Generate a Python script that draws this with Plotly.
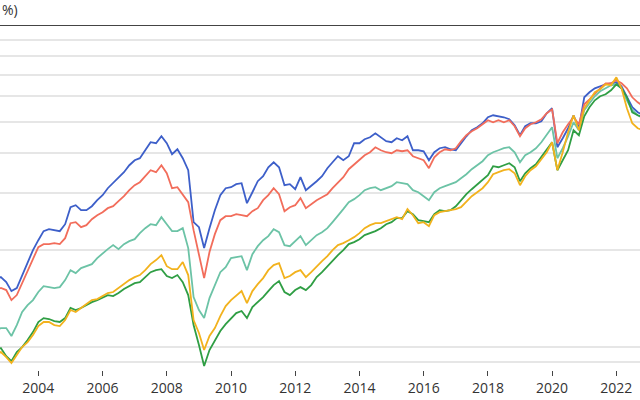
import pandas as pd
import plotly.graph_objects as go

# Bi-monthly observation dates (x categories)
dates = pd.date_range(start="2002-09-01", periods=122, freq="2MS")

# Index levels (log scale)
blue = [161.4,164.9,159.1,149.2,152.5,167.3,183.6,200.0,214.7,229.0,
        232.3,230.6,229.0,240.7,271.8,275.7,266.1,266.1,273.7,285.8,
        296.2,311.3,322.7,334.4,349.1,366.9,380.3,385.8,408.4,432.5,
        429.4,451.3,429.4,396.9,411.3,385.8,354.1,244.2,235.6,202.9,
        233.9,266.1,296.2,311.3,313.6,320.4,322.7,279.7,302.5,327.3,
        339.2,361.7,374.9,361.7,318.1,320.4,309.1,336.8,306.9,315.8,
        327.3,339.2,359.2,374.9,391.3,380.3,391.3,429.4,429.4,441.9,
        448.2,461.1,448.2,435.6,432.5,445.0,438.7,451.3,408.4,408.4,
        405.5,380.3,402.6,414.3,417.3,411.3,408.4,429.4,451.3,471.2,
        481.4,495.3,517.0,524.4,520.7,517.0,509.6,488.3,454.6,484.8,
        495.3,495.3,502.4,532.0,551.3,417.3,445.0,478.0,524.4,478.0,
        596.4,618.1,636.0,645.2,654.5,659.2,663.9,645.2,600.7,555.3,
        535.8,524.4]

red = [150.3,152.5,150.3,139.9,145.0,157.9,173.3,188.9,204.3,208.7,
       208.7,210.2,208.7,217.8,242.4,244.2,235.6,239.0,249.5,256.7,
       262.3,269.9,273.7,283.8,294.1,306.9,318.1,325.0,339.2,354.1,
       349.1,366.9,346.5,311.3,313.6,296.2,281.7,230.6,192.9,163.7,
       197.2,224.2,247.7,254.9,254.9,258.5,256.7,254.9,264.2,269.9,
       285.8,296.2,311.3,298.3,264.2,271.8,275.7,289.9,269.9,277.7,
       285.8,292.0,298.3,311.3,325.0,336.8,356.6,369.5,383.0,394.1,
       402.6,417.3,408.4,402.6,399.8,408.4,405.5,408.4,391.3,385.8,
       380.3,359.2,388.5,402.6,411.3,408.4,414.3,435.6,454.6,467.8,
       478.0,491.8,506.0,498.8,506.0,498.8,506.0,484.8,451.3,478.0,
       491.8,498.8,509.6,532.0,547.4,429.4,464.5,491.8,517.0,491.8,
       567.4,587.9,613.7,636.0,659.2,659.2,673.4,659.2,636.0,596.4,
       575.4,559.3]

teal = [112.9,114.5,114.5,108.2,117.0,128.5,135.0,139.9,148.2,154.6,
        153.5,152.5,153.5,161.4,173.3,169.7,175.8,178.3,180.9,188.9,
        195.7,201.4,207.2,201.4,208.7,213.2,216.2,225.8,233.9,240.7,
        239.0,253.1,240.7,229.0,229.0,233.9,202.9,142.9,130.3,123.0,
        141.9,155.7,170.8,177.1,188.9,190.2,191.5,173.3,194.3,205.7,
        214.7,221.0,232.3,227.3,207.2,205.7,213.2,221.0,207.2,214.7,
        222.6,227.3,233.9,244.2,254.9,268.0,281.7,287.9,296.2,306.9,
        311.3,313.6,306.9,311.3,315.8,325.0,322.7,320.4,306.9,302.5,
        294.1,285.8,302.5,311.3,315.8,320.4,325.0,334.4,344.1,356.6,
        366.9,377.6,394.1,402.6,408.4,414.3,417.3,402.6,374.9,394.1,
        402.6,414.3,432.5,454.6,481.4,385.8,414.3,451.3,498.8,471.2,
        543.5,571.4,600.7,622.5,636.0,649.8,654.5,636.0,583.7,543.5,
        524.4,513.3]

green = [97.9,99.3,93.7,90.4,96.5,100.0,105.1,111.3,119.6,123.0,
         122.2,120.4,119.6,123.0,132.2,130.3,132.2,135.0,137.9,139.9,
         142.9,145.0,144.0,147.1,151.4,154.6,157.9,159.1,164.9,170.8,
         173.3,174.5,166.1,163.7,167.3,159.1,145.0,117.0,101.4,87.3,
         97.9,104.3,112.1,117.8,123.0,127.5,129.4,123.0,133.1,137.9,
         142.9,149.2,155.7,160.2,148.2,145.0,150.3,153.5,150.3,155.7,
         164.9,170.8,178.3,186.2,192.9,200.0,208.7,211.7,216.2,222.6,
         225.8,229.0,233.9,240.7,244.2,251.3,251.3,264.2,258.5,247.7,
         245.9,244.2,258.5,266.1,264.2,266.1,273.7,285.8,298.3,309.1,
         320.4,329.7,341.6,364.3,361.7,366.9,372.2,361.7,327.3,346.5,
         359.2,369.5,388.5,411.3,432.5,354.1,380.3,408.4,471.2,454.6,
         520.7,555.3,583.7,600.7,609.4,627.0,654.5,636.0,596.4,535.8,
         524.4,517.0]

yellow = [93.7,96.5,93.1,89.2,94.4,100.0,103.6,109.0,116.2,119.6,
          119.6,117.0,116.2,121.3,130.3,128.5,132.2,136.0,139.9,140.9,
          144.0,147.1,148.2,152.5,157.9,161.4,164.9,167.3,173.3,180.9,
          186.2,192.9,178.3,174.5,174.5,183.6,167.3,121.3,110.6,97.9,
          108.2,114.5,124.8,134.0,139.9,144.0,149.2,136.9,149.2,156.8,
          163.7,173.3,179.6,182.2,163.7,166.1,170.8,173.3,164.9,170.8,
          178.3,184.9,191.5,200.0,207.2,210.2,214.7,219.4,225.8,233.9,
          239.0,242.4,242.4,245.9,249.5,253.1,249.5,268.0,256.7,242.4,
          244.2,237.3,256.7,262.3,264.2,266.1,268.0,271.8,283.8,294.1,
          302.5,311.3,325.0,344.1,349.1,354.1,356.6,346.5,318.1,339.2,
          354.1,364.3,383.0,402.6,432.5,354.1,402.6,464.5,524.4,471.2,
          551.3,583.7,618.1,631.5,654.5,649.8,688.0,636.0,551.3,495.3,
          478.0,471.2]

series = [
    ("Series 1", blue, "#3d5fc9"),
    ("Series 2", red, "#f26d5b"),
    ("Series 3", teal, "#6cc3a6"),
    ("Series 4", green, "#2f9e44"),
    ("Series 5", yellow, "#f2b21d"),
]

fig = go.Figure()
for name, vals, color in series:
    fig.add_trace(go.Scatter(x=dates, y=vals, mode="lines", name=name,
                             line=dict(color=color, width=1.8)))

fig.add_shape(type="line", xref="paper", x0=0, x1=1, yref="y", y0=1000, y1=1000,
              line=dict(color="#444444", width=2))

fig.add_annotation(text="%)", xref="paper", yref="paper", x=0, y=1,
                   xanchor="left", yanchor="bottom", yshift=4, showarrow=False,
                   font=dict(size=14, color="#333333"))

fig.update_layout(
    width=640, height=400,
    margin=dict(l=0, r=0, t=25, b=30),
    plot_bgcolor="white", paper_bgcolor="white",
    showlegend=False,
    font=dict(family="Open Sans", size=14, color="#333333"),
    xaxis=dict(type="date", range=["2002-10-22", "2022-09-27"],
               tick0="2004-01-01", dtick="M24", tickformat="%Y",
               ticks="outside", ticklen=5, tickcolor="#444444",
               showgrid=False, showline=False, zeroline=False,
               tickfont=dict(size=14, color="#333333")),
    yaxis=dict(type="log", range=[1.9287, 3.0], dtick="D1",
               showticklabels=False, ticks="", showgrid=True,
               gridcolor="#e6e6e6", gridwidth=1.5, zeroline=False, showline=False),
)

fig.write_html("out.html", config={"displayModeBar": False},
               post_script="document.body.style.margin='0';document.body.style.overflow='hidden';")
